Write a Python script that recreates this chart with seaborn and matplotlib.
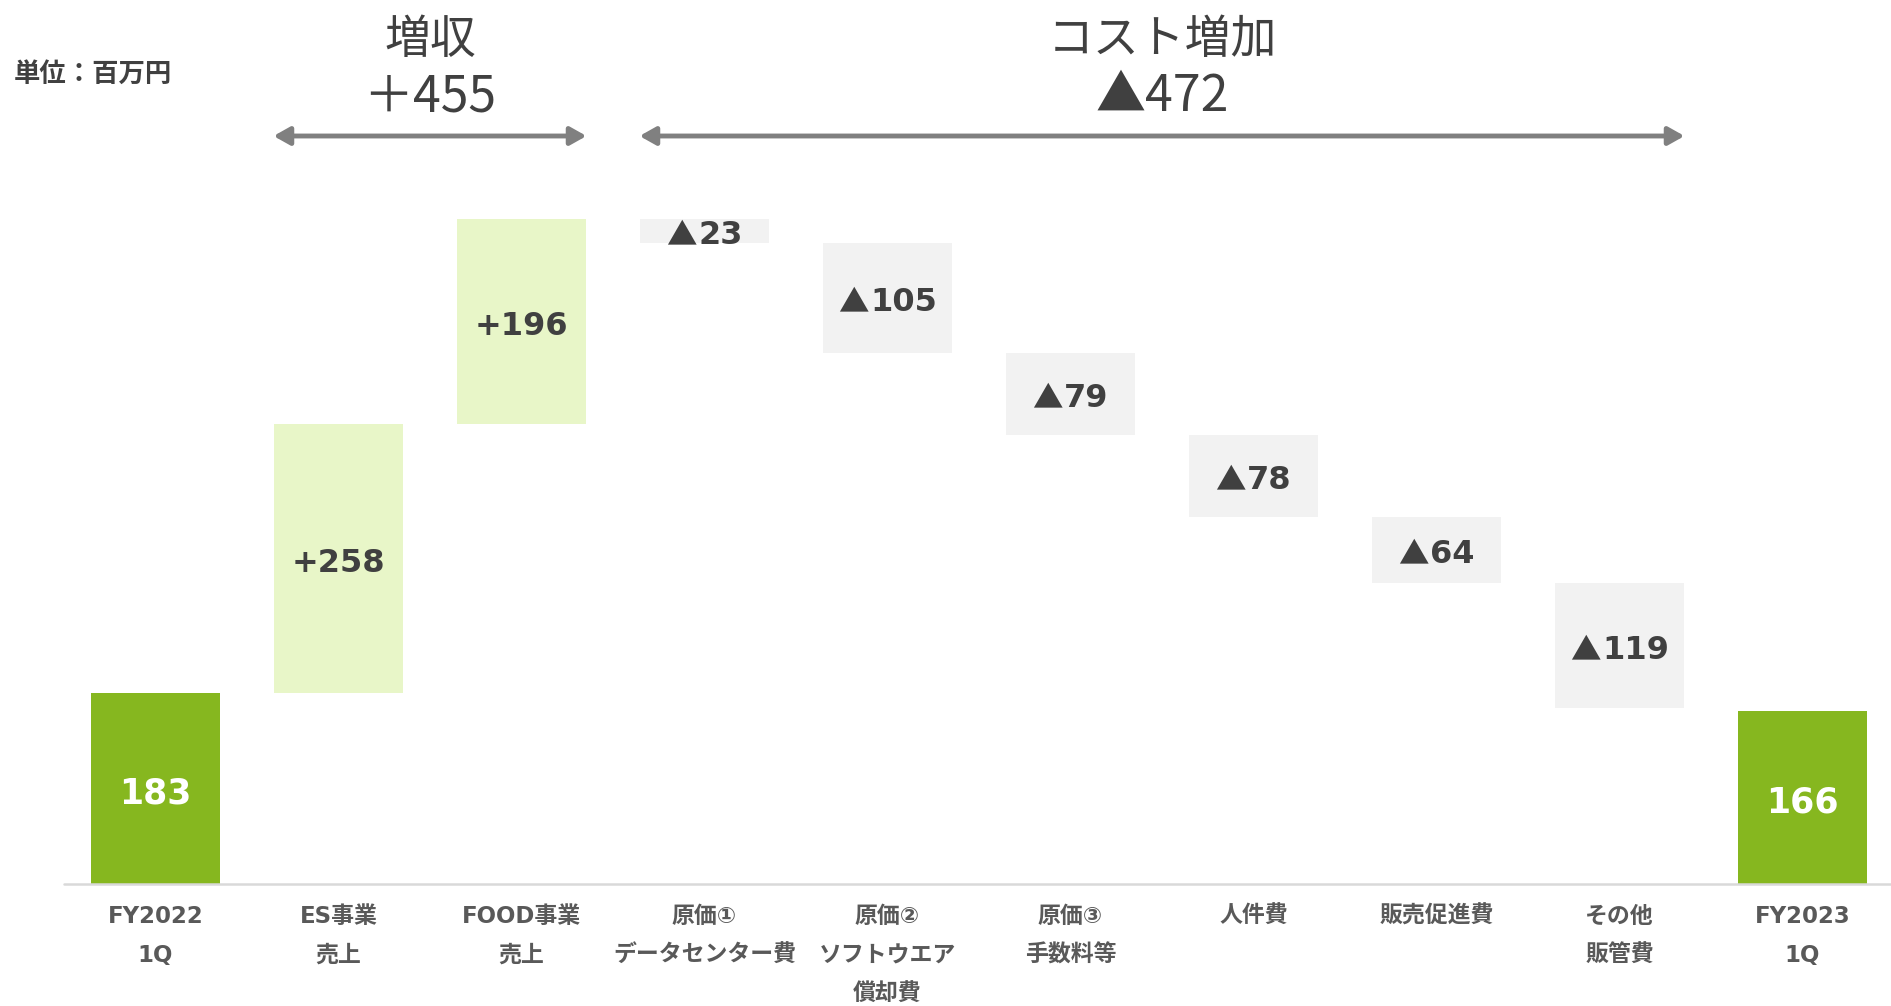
import numpy as np
import pandas as pd
import matplotlib
matplotlib.use("Agg")
import matplotlib.pyplot as plt
from matplotlib.offsetbox import TextArea, HPacker, AnnotationBbox
import seaborn as sns

# ---- data ----
categories = ["FY2022\n1Q", "ES事業\n売上", "FOOD事業\n売上", "原価①\nデータセンター費",
              "原価②\nソフトウエア\n償却費", "原価③\n手数料等", "人件費", "販売促進費",
              "その他\n販管費", "FY2023\n1Q"]
start_value = 183
end_value = 166
changes = [258, 196, -23, -105, -79, -78, -64, -119]
bar_labels = ["183", "+258", "+196", "▲23", "▲105", "▲79", "▲78", "▲64", "▲119", "166"]
group_titles = ["増収\n＋455", "コスト増加\n▲472"]
unit_label = "単位：百万円"

# ---- waterfall geometry from data ----
bottoms, heights, kinds = [0], [start_value], ["total"]
level = start_value
for c in changes:
    if c >= 0:
        bottoms.append(level); heights.append(c); kinds.append("up")
    else:
        bottoms.append(level + c); heights.append(-c); kinds.append("down")
    level += c
bottoms.append(0); heights.append(end_value); kinds.append("total")
df = pd.DataFrame({"cat": categories, "bottom": bottoms, "height": heights, "kind": kinds})

colors = {"total": "#86B71F", "up": "#E8F6C8", "down": "#F2F2F2"}
text_colors = {"total": "#FFFFFF", "up": "#404040", "down": "#404040"}

sns.set_theme(style="white")
plt.rcParams["font.family"] = ["DejaVu Sans", "Noto Sans CJK JP"]

W, H = 1891, 1006
fig = plt.figure(figsize=(W / 100, H / 100), dpi=100)
ax_left, ax_bottom_px = 64, 884
ax = fig.add_axes([ax_left / W, (H - ax_bottom_px) / H, (W - ax_left) / W, ax_bottom_px / H])

px_per_cat = 183.0
px_per_unit = 1.044
width = 0.71

sns.barplot(data=df, x="cat", y="height", order=categories, bottom=df["bottom"].to_numpy(),
            width=width, errorbar=None, ax=ax, color="#F2F2F2", linewidth=0)
for patch, k in zip(ax.patches, df["kind"]):
    patch.set_facecolor(colors[k])
    patch.set_edgecolor("none")

ax.set_xlim(-0.5, -0.5 + (W - ax_left) / px_per_cat)
ax.set_ylim(0, ax_bottom_px / px_per_unit)

# value labels
shift = 5 / px_per_unit
for i, row in df.iterrows():
    fs = 25 if row["kind"] == "total" else 23
    yc = row["bottom"] + row["height"] / 2 - shift
    lab = bar_labels[i]
    col = text_colors[row["kind"]]
    if lab.startswith("▲"):
        tri = TextArea("▲", textprops=dict(fontsize=fs - 1, color=col,
                                           family=["Noto Sans CJK JP"]))
        num = TextArea(lab[1:], textprops=dict(fontsize=fs, fontweight="bold", color=col,
                                               family=["DejaVu Sans"]))
        pack = HPacker(children=[tri, num], sep=1, pad=0, align="center")
        ab = AnnotationBbox(pack, (i, yc), xycoords="data", frameon=False,
                            box_alignment=(0.5, 0.5), pad=0)
        ax.add_artist(ab)
    else:
        ax.text(i, yc, lab, ha="center", va="center",
                fontsize=fs, fontweight="bold", color=col,
                family=["DejaVu Sans", "Noto Sans CJK JP"])

# baseline
ax.axhline(0, color="#D9D9D9", lw=1.8, zorder=3, clip_on=False)

# x tick labels
ax.set_xlabel("")
ax.set_ylabel("")
ax.set_yticks([])
ax.tick_params(axis="x", length=0, pad=15)
ax.set_xticks(range(len(categories)))
ax.set_xticklabels(categories, fontsize=16.5, fontweight="bold", color="#595959",
                   linespacing=1.9)
for s in ax.spines.values():
    s.set_visible(False)

# group arrows and titles
half = width / 2
spans = [(1 - half, 2 + half), (3 - half, 8 + half)]
arrow_y = (ax_bottom_px - 136) / px_per_unit
for (x0, x1), title in zip(spans, group_titles):
    ax.annotate("", xy=(x1, arrow_y), xytext=(x0, arrow_y),
                arrowprops=dict(arrowstyle="<|-|>,head_length=0.8,head_width=0.45",
                                color="#808080", lw=3.5, shrinkA=0, shrinkB=0),
                annotation_clip=False)
    l1, l2 = title.split("\n")
    xc = (x0 + x1) / 2
    ax.text(xc, (ax_bottom_px - 40) / px_per_unit, l1, ha="center", va="center",
            fontsize=33, color="#404040", family=["Noto Sans CJK JP", "DejaVu Sans"])
    ax.text(xc, (ax_bottom_px - 97) / px_per_unit, l2, ha="center", va="center",
            fontsize=36, color="#404040", family=["Noto Sans CJK JP", "DejaVu Sans"])

fig.text(14 / W, 1 - 74 / H, unit_label, ha="left", va="center", fontsize=19,
         fontweight="bold", color="#404040", family=["Noto Sans CJK JP", "DejaVu Sans"])

fig.savefig("out.png", dpi=100, facecolor="white")
